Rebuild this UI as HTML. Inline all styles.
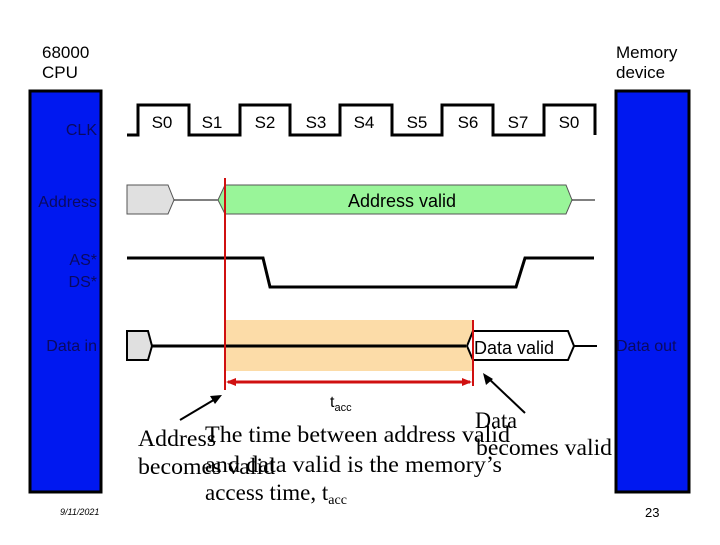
<!DOCTYPE html>
<html><head><style>
body{margin:0;background:#fff;}
svg text{font-family:"Liberation Sans",sans-serif;}
.t{font-family:"Liberation Serif",serif;font-size:23px;fill:#000;}
</style></head><body>
<svg width="720" height="540" viewBox="0 0 720 540" xmlns="http://www.w3.org/2000/svg">
<rect x="30" y="91" width="71" height="401" fill="#0018f0" stroke="#000" stroke-width="3"/>
<rect x="616" y="91" width="73" height="401" fill="#0018f0" stroke="#000" stroke-width="3"/>
<text x="42" y="58" font-size="17">68000</text>
<text x="42" y="78" font-size="17">CPU</text>
<text x="616" y="58" font-size="17">Memory</text>
<text x="616" y="78" font-size="17">device</text>
<g font-size="16" fill="#0a0a60" text-anchor="end">
<text x="97" y="135">CLK</text>
<text x="97" y="207">Address</text>
<text x="97" y="265">AS*</text>
<text x="97" y="287">DS*</text>
<text x="97" y="351">Data in</text>
</g>
<text x="616" y="351" font-size="16" fill="#0a0a60">Data out</text>
<polyline points="127,135 138,135 138,105 189,105 189,135 240,135 240,105 290,105 290,135 340,135 340,105 392,105 392,135 442,135 442,105 493,105 493,135 544,135 544,105 595,105 595,135" fill="none" stroke="#000" stroke-width="3"/>
<g font-size="17" text-anchor="middle">
<text x="162" y="128">S0</text><text x="212" y="128">S1</text><text x="265" y="128">S2</text><text x="316" y="128">S3</text><text x="364" y="128">S4</text><text x="417" y="128">S5</text><text x="468" y="128">S6</text><text x="518" y="128">S7</text><text x="569" y="128">S0</text>
</g>
<polygon points="127,185 168,185 174,200 168,214 127,214" fill="#e0e0e0" stroke="#555" stroke-width="1"/>
<line x1="174" y1="200" x2="218" y2="200" stroke="#000"/>
<polygon points="225,185 566,185 572,200 566,214 225,214 218,200" fill="#99f599" stroke="#555" stroke-width="1"/>
<line x1="572" y1="200" x2="595" y2="200" stroke="#000"/>
<text x="402" y="207" font-size="18" text-anchor="middle">Address valid</text>
<polyline points="127,258 263,258 270,287 516,287 525,258 594,258" fill="none" stroke="#000" stroke-width="3"/>
<rect x="226" y="320" width="247" height="51" fill="#fcdca8"/>
<polygon points="127,331 148,331 152,346 148,360 127,360" fill="#e0e0e0" stroke="#000" stroke-width="2"/>
<line x1="152" y1="346" x2="466" y2="346" stroke="#000" stroke-width="3"/>
<polygon points="473,331 568,331 574,346 568,360 473,360 467,346" fill="#fff" stroke="#000" stroke-width="2"/>
<line x1="574" y1="346" x2="597" y2="346" stroke="#000" stroke-width="2"/>
<text x="474" y="354" font-size="18">Data valid</text>
<line x1="225" y1="178" x2="225" y2="390" stroke="#d01010" stroke-width="2"/>
<line x1="473" y1="320" x2="473" y2="386" stroke="#d01010" stroke-width="2"/>
<line x1="228" y1="382" x2="470" y2="382" stroke="#d01010" stroke-width="3"/>
<polygon points="226,382 236,378 236,386" fill="#d01010"/>
<polygon points="472,382 462,378 462,386" fill="#d01010"/>
<text x="330" y="407" font-size="16">t<tspan font-size="11" dy="4">acc</tspan></text>
<line x1="180" y1="420" x2="217" y2="398" stroke="#000" stroke-width="2"/>
<polygon points="222,395 210,396 215,404" fill="#000"/>
<line x1="525" y1="413" x2="487" y2="377" stroke="#000" stroke-width="2"/>
<polygon points="483,373 486,385 493,379" fill="#000"/>
<text class="t" x="138" y="446" textLength="78" lengthAdjust="spacingAndGlyphs">Address</text>
<text class="t" x="138" y="474" textLength="137" lengthAdjust="spacingAndGlyphs">becomes valid</text>
<text class="t" x="205" y="442" textLength="305" lengthAdjust="spacingAndGlyphs">The time between address valid</text>
<text class="t" x="205" y="472" textLength="297" lengthAdjust="spacingAndGlyphs">and data valid is the memory’s</text>
<text class="t" x="205" y="500">access time, t<tspan font-size="14" dy="4">acc</tspan></text>
<text class="t" x="475" y="428" textLength="42" lengthAdjust="spacingAndGlyphs">Data</text>
<text class="t" x="476" y="455" textLength="136" lengthAdjust="spacingAndGlyphs">becomes valid</text>
<text x="60" y="515" font-size="9" font-style="italic" font-family="Liberation Serif,serif">9/11/2021</text>
<text x="645" y="517" font-size="13" font-family="Liberation Serif,serif">23</text>
</svg>
</body></html>
